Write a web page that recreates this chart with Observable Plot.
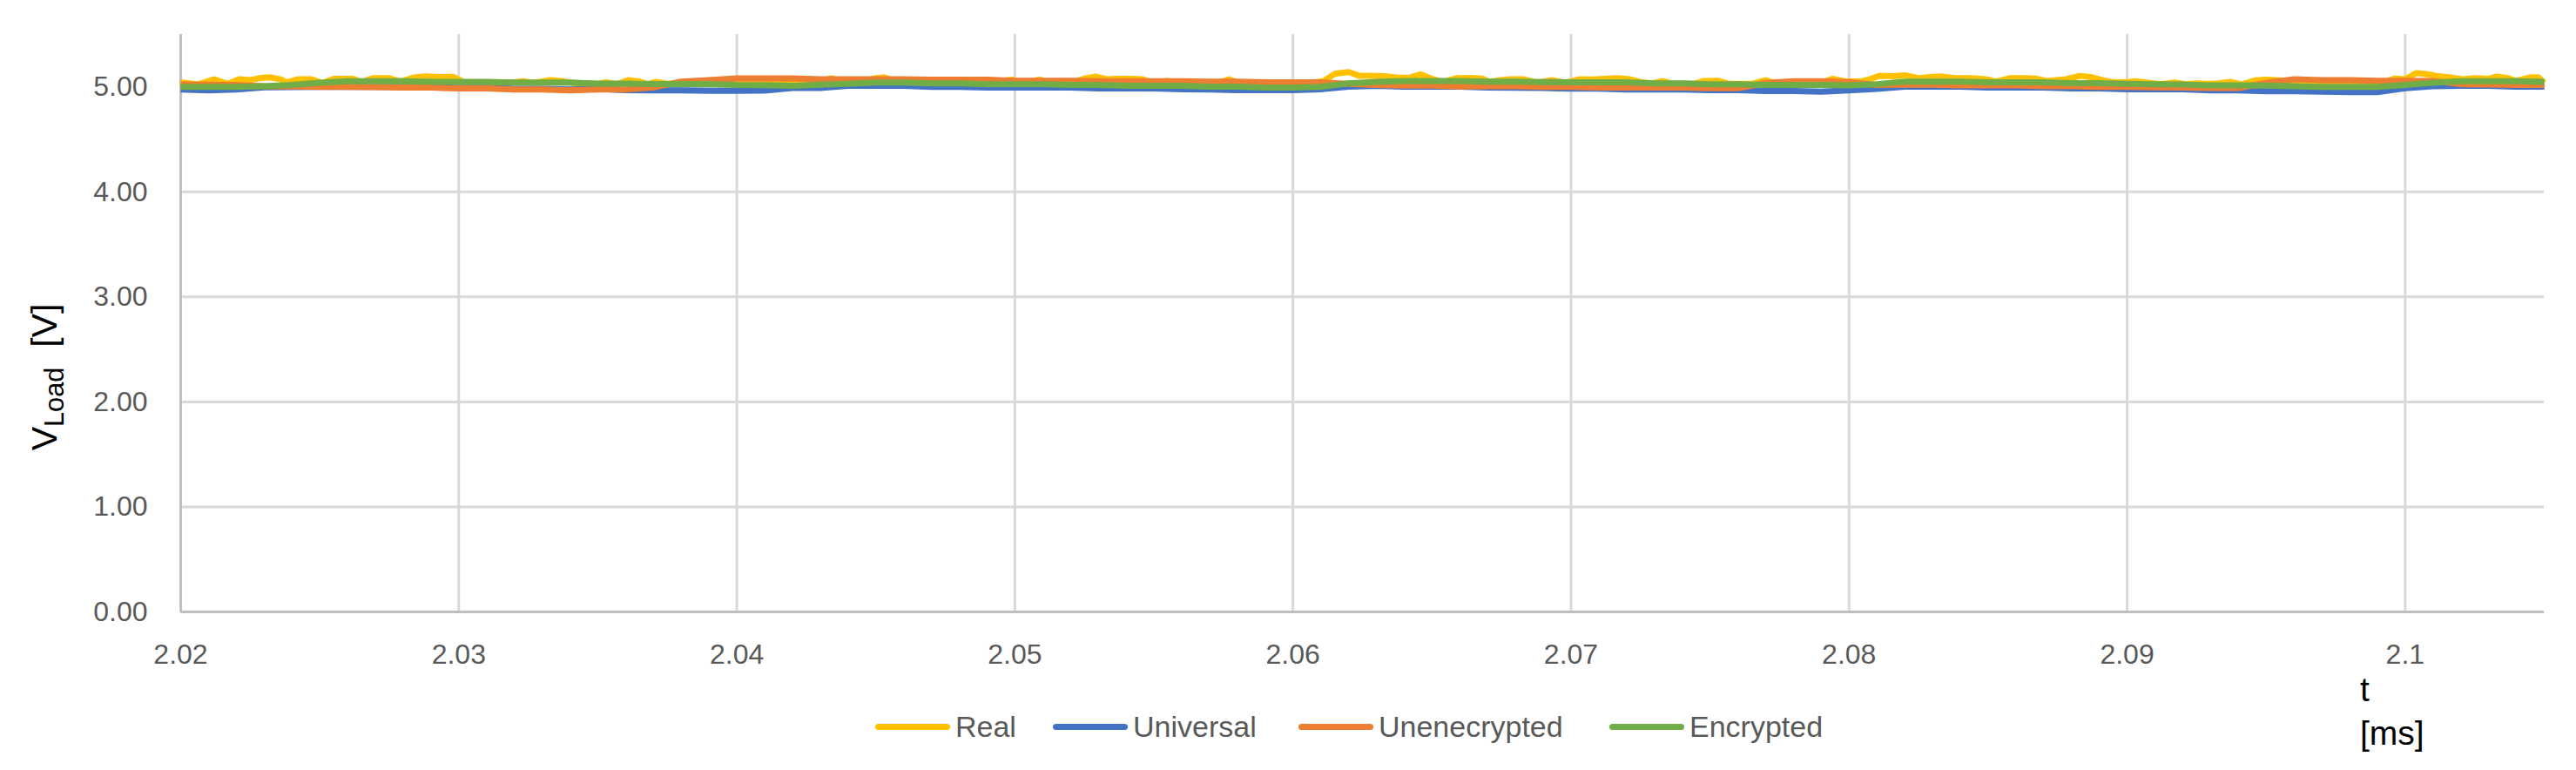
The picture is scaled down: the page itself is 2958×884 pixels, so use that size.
<!DOCTYPE html>
<html>
<head>
<meta charset="utf-8">
<script src="https://cdn.jsdelivr.net/npm/d3@7"></script>
<script src="https://cdn.jsdelivr.net/npm/@observablehq/plot@0.6"></script>
<style>
  body { margin: 0; background: #fff; }
  #wrap { position: relative; width: 2958px; height: 884px; font-family: "Liberation Sans", Arial, sans-serif; }
  #wrap svg { display: block; }
  .ov { position: absolute; white-space: nowrap; line-height: 1; }
  .ylab { font-size: 41px; color: #000; transform: translate(-50%, -50%) rotate(-90deg); }
  .ylab sub { font-size: 75%; vertical-align: -0.25em; }
  .tlab { font-size: 39px; color: #000; }
  .sw { position: absolute; height: 7px; border-radius: 3.5px; }
  .lt { position: absolute; font-size: 34px; color: #595959; line-height: 1; transform: translateY(-50%); white-space: nowrap; }
</style>
</head>
<body>
<div id="wrap"></div>
<script>
// ---- Data ----
const xTicks = [2.02, 2.03, 2.04, 2.05, 2.06, 2.07, 2.08, 2.09, 2.1];
const xTickLabels = ["2.02", "2.03", "2.04", "2.05", "2.06", "2.07", "2.08", "2.09", "2.1"];
const yTicks = [0, 1, 2, 3, 4, 5];
const yTickLabels = ["0.00", "1.00", "2.00", "3.00", "4.00", "5.00"];
const seriesNames = ["Real", "Universal", "Unenecrypted", "Encrypted"];
const seriesColors = ["#FFC000", "#4472C4", "#ED7D31", "#70AD47"];

const timeMs = [
  2.020, 2.021, 2.022, 2.023, 2.024, 2.025, 2.026, 2.027, 2.028, 2.029,
  2.030, 2.031, 2.032, 2.033, 2.034, 2.035, 2.036, 2.037, 2.038, 2.039,
  2.040, 2.041, 2.042, 2.043, 2.044, 2.045, 2.046, 2.047, 2.048, 2.049,
  2.050, 2.051, 2.052, 2.053, 2.054, 2.055, 2.056, 2.057, 2.058, 2.059,
  2.060, 2.061, 2.062, 2.063, 2.064, 2.065, 2.066, 2.067, 2.068, 2.069,
  2.070, 2.071, 2.072, 2.073, 2.074, 2.075, 2.076, 2.077, 2.078, 2.079,
  2.080, 2.081, 2.082, 2.083, 2.084, 2.085, 2.086, 2.087, 2.088, 2.089,
  2.090, 2.091, 2.092, 2.093, 2.094, 2.095, 2.096, 2.097, 2.098, 2.099,
  2.100, 2.101, 2.102, 2.103, 2.104, 2.105
];

const universal = [
  4.975, 4.968, 4.975, 4.996, 4.999, 5.001, 5.001, 5.001, 5.000, 5.000,
  4.992, 4.992, 4.982, 4.982, 4.976, 4.981, 4.970, 4.968, 4.968, 4.963,
  4.963, 4.965, 4.989, 4.989, 5.010, 5.010, 5.010, 5.001, 5.001, 4.994,
  4.994, 4.994, 4.994, 4.986, 4.986, 4.986, 4.978, 4.975, 4.970, 4.970,
  4.970, 4.978, 5.003, 5.011, 5.003, 5.003, 5.003, 4.993, 4.992, 4.989,
  4.983, 4.983, 4.975, 4.975, 4.975, 4.970, 4.970, 4.960, 4.960, 4.954,
  4.968, 4.982, 5.003, 5.003, 5.003, 4.994, 4.994, 4.994, 4.986, 4.986,
  4.978, 4.978, 4.978, 4.967, 4.967, 4.958, 4.958, 4.954, 4.950, 4.950,
  4.987, 5.007, 5.011, 5.011, 5.003, 5.003
];

const unencrypted = [
  5.023, 5.021, 5.018, 5.007, 5.004, 5.001, 5.001, 4.999, 4.993, 4.993,
  4.985, 4.985, 4.976, 4.976, 4.968, 4.976, 4.976, 4.996, 5.051, 5.065,
  5.082, 5.082, 5.082, 5.073, 5.073, 5.073, 5.073, 5.068, 5.068, 5.068,
  5.059, 5.059, 5.059, 5.054, 5.054, 5.054, 5.054, 5.051, 5.051, 5.043,
  5.043, 5.043, 5.029, 5.018, 5.012, 5.012, 5.004, 5.007, 5.007, 5.001,
  5.001, 4.993, 4.993, 4.993, 4.993, 4.988, 4.988, 5.037, 5.054, 5.054,
  5.046, 5.018, 5.021, 5.021, 5.015, 5.015, 5.015, 5.007, 5.007, 5.001,
  5.001, 4.996, 4.993, 4.990, 4.990, 5.037, 5.073, 5.065, 5.065, 5.059,
  5.059, 5.057, 5.026, 5.023, 5.018, 5.018
];

const encrypted = [
  5.000, 5.000, 5.000, 5.007, 5.018, 5.040, 5.054, 5.054, 5.054, 5.048,
  5.048, 5.048, 5.041, 5.041, 5.041, 5.032, 5.032, 5.028, 5.028, 5.028,
  5.018, 5.017, 5.010, 5.021, 5.029, 5.041, 5.041, 5.034, 5.034, 5.026,
  5.026, 5.026, 5.018, 5.018, 5.011, 5.011, 5.011, 5.003, 5.003, 4.993,
  4.993, 5.001, 5.034, 5.048, 5.057, 5.057, 5.057, 5.050, 5.050, 5.046,
  5.043, 5.043, 5.043, 5.033, 5.033, 5.026, 5.026, 5.018, 5.018, 5.018,
  5.015, 5.026, 5.051, 5.051, 5.051, 5.043, 5.043, 5.043, 5.036, 5.036,
  5.029, 5.025, 5.023, 5.015, 5.015, 5.012, 5.007, 5.001, 5.001, 5.001,
  5.018, 5.040, 5.054, 5.055, 5.054, 5.048
];

const realTime = [
  2.0200, 2.0206, 2.0212, 2.0217, 2.0221, 2.0225, 2.0229, 2.0232, 2.0236, 2.0238,
  2.0242, 2.0247, 2.0251, 2.0255, 2.0262, 2.0265, 2.0269, 2.0275, 2.0279, 2.0284,
  2.0288, 2.0293, 2.0298, 2.0302, 2.0310, 2.0318, 2.0323, 2.0327, 2.0333, 2.0337,
  2.0342, 2.0350, 2.0353, 2.0357, 2.0361, 2.0365, 2.0368, 2.0371, 2.0375, 2.0380,
  2.0390, 2.0400, 2.0410, 2.0420, 2.0430, 2.0434, 2.0438, 2.0445, 2.0450, 2.0453,
  2.0457, 2.0470, 2.0490, 2.0499, 2.0503, 2.0509, 2.0513, 2.0520, 2.0525, 2.0529,
  2.0533, 2.0537, 2.0542, 2.0546, 2.0550, 2.0555, 2.0558, 2.0562, 2.0566, 2.0573,
  2.0577, 2.0581, 2.0590, 2.0600, 2.0607, 2.0611, 2.0615, 2.0620, 2.0624, 2.0628,
  2.0633, 2.0638, 2.0642, 2.0646, 2.0650, 2.0654, 2.0659, 2.0664, 2.0668, 2.0671,
  2.0674, 2.0678, 2.0683, 2.0688, 2.0693, 2.0698, 2.0703, 2.0708, 2.0712, 2.0717,
  2.0721, 2.0725, 2.0729, 2.0733, 2.0737, 2.0744, 2.0748, 2.0753, 2.0757, 2.0765,
  2.0770, 2.0774, 2.0785, 2.0790, 2.0794, 2.0799, 2.0805, 2.0808, 2.0811, 2.0816,
  2.0820, 2.0825, 2.0829, 2.0833, 2.0838, 2.0844, 2.0849, 2.0853, 2.0858, 2.0863,
  2.0867, 2.0871, 2.0878, 2.0883, 2.0887, 2.0891, 2.0895, 2.0900, 2.0903, 2.0907,
  2.0912, 2.0917, 2.0921, 2.0925, 2.0929, 2.0933, 2.0937, 2.0941, 2.0946, 2.0950,
  2.0955, 2.0960, 2.0965, 2.0975, 2.0985, 2.0992, 2.0996, 2.1000, 2.1004, 2.1008,
  2.1012, 2.1017, 2.1021, 2.1025, 2.1030, 2.1033, 2.1037, 2.1040, 2.1042, 2.1045,
  2.1048, 2.1050
];

const realValues = [
  5.044, 5.023, 5.072, 5.029, 5.072, 5.065, 5.086, 5.091, 5.072, 5.043,
  5.072, 5.072, 5.037, 5.077, 5.077, 5.046, 5.083, 5.083, 5.051, 5.090,
  5.099, 5.093, 5.096, 5.043, 5.037, 5.037, 5.055, 5.037, 5.064, 5.057,
  5.032, 5.029, 5.044, 5.026, 5.064, 5.051, 5.026, 5.049, 5.029, 5.037,
  5.046, 5.046, 5.046, 5.043, 5.051, 5.083, 5.051, 5.051, 5.083, 5.091,
  5.051, 5.046, 5.043, 5.069, 5.040, 5.069, 5.037, 5.040, 5.079, 5.099,
  5.073, 5.077, 5.077, 5.073, 5.034, 5.058, 5.032, 5.049, 5.029, 5.037,
  5.072, 5.034, 5.029, 5.029, 5.040, 5.055, 5.124, 5.141, 5.105, 5.105,
  5.101, 5.088, 5.088, 5.119, 5.077, 5.046, 5.084, 5.086, 5.079, 5.046,
  5.062, 5.072, 5.072, 5.040, 5.064, 5.040, 5.072, 5.070, 5.076, 5.083,
  5.073, 5.046, 5.034, 5.055, 5.029, 5.029, 5.057, 5.058, 5.029, 5.029,
  5.064, 5.029, 5.034, 5.040, 5.077, 5.051, 5.055, 5.079, 5.105, 5.101,
  5.111, 5.084, 5.093, 5.099, 5.084, 5.083, 5.073, 5.051, 5.083, 5.083,
  5.079, 5.057, 5.073, 5.105, 5.093, 5.065, 5.043, 5.046, 5.055, 5.041,
  5.026, 5.041, 5.026, 5.033, 5.029, 5.034, 5.049, 5.023, 5.062, 5.068,
  5.062, 5.046, 5.037, 5.037, 5.037, 5.040, 5.079, 5.072, 5.132, 5.120,
  5.101, 5.088, 5.072, 5.083, 5.077, 5.099, 5.083, 5.057, 5.072, 5.091,
  5.090, 5.037
];

// ---- Build table ----
const rows = [];
realTime.forEach((t, i) => rows.push({ series: "Real", t, v: realValues[i] }));
timeMs.forEach((t, i) => rows.push({ series: "Universal", t, v: universal[i] }));
timeMs.forEach((t, i) => rows.push({ series: "Unenecrypted", t, v: unencrypted[i] }));
timeMs.forEach((t, i) => rows.push({ series: "Encrypted", t, v: encrypted[i] }));

const xLabelMap = new Map(xTicks.map((d, i) => [d, xTickLabels[i]]));
const yLabelMap = new Map(yTicks.map((d, i) => [d, yTickLabels[i]]));

const chart = Plot.plot({
  width: 2958,
  height: 884,
  marginLeft: 207,
  marginRight: 37,
  marginTop: 39,
  marginBottom: 182,
  style: { fontFamily: "'Liberation Sans', Arial, sans-serif", background: "#fff" },
  x: { type: "linear", domain: [2.02, 2.105] },
  y: { type: "linear", domain: [0, 5.5] },
  color: { domain: seriesNames, range: seriesColors },
  marks: [
    Plot.gridX(xTicks.slice(1), { stroke: "#d9d9d9", strokeOpacity: 1, strokeWidth: 3 }),
    Plot.gridY(yTicks.slice(1), { stroke: "#d9d9d9", strokeOpacity: 1, strokeWidth: 3 }),
    Plot.ruleX([xTicks[0]], { stroke: "#bfbfbf", strokeWidth: 3 }),
    Plot.ruleY([yTicks[0]], { stroke: "#bfbfbf", strokeWidth: 3 }),
    Plot.line(rows, { x: "t", y: "v", z: "series", stroke: "series", strokeWidth: 7, strokeLinejoin: "round", strokeLinecap: "butt" }),
    Plot.axisX(xTicks, { tickSize: 0, tickPadding: 37, tickFormat: d => xLabelMap.get(d), fontSize: 32, fill: "#595959", label: null }),
    Plot.axisY(yTicks, { tickSize: 0, tickPadding: 38, tickFormat: d => yLabelMap.get(d), fontSize: 32, fill: "#595959", label: null })
  ]
});

const wrap = document.getElementById("wrap");
wrap.appendChild(chart);

// Y axis title
const yl = document.createElement("div");
yl.className = "ov ylab";
yl.style.left = "55px";
yl.style.top = "433px";
yl.innerHTML = "V<sub>Load</sub>&nbsp;&nbsp;[V]";
wrap.appendChild(yl);

// X axis title (two lines)
const xTitleLines = ["t", "[ms]"];
const xTitleTops = [772, 822];
xTitleLines.forEach((s, i) => {
  const d = document.createElement("div");
  d.className = "ov tlab";
  d.style.left = "2710px";
  d.style.top = xTitleTops[i] + "px";
  d.textContent = s;
  wrap.appendChild(d);
});

// Legend
const legendSwatchX = [1005, 1209, 1491, 1848];
const legendY = 834;
seriesNames.forEach((name, i) => {
  const sw = document.createElement("div");
  sw.className = "sw";
  sw.style.left = legendSwatchX[i] + "px";
  sw.style.top = (legendY - 3.5) + "px";
  sw.style.width = "86px";
  sw.style.background = seriesColors[i];
  wrap.appendChild(sw);
  const lt = document.createElement("div");
  lt.className = "lt";
  lt.style.left = (legendSwatchX[i] + 92) + "px";
  lt.style.top = legendY + "px";
  lt.textContent = name;
  wrap.appendChild(lt);
});
</script>
</body>
</html>
